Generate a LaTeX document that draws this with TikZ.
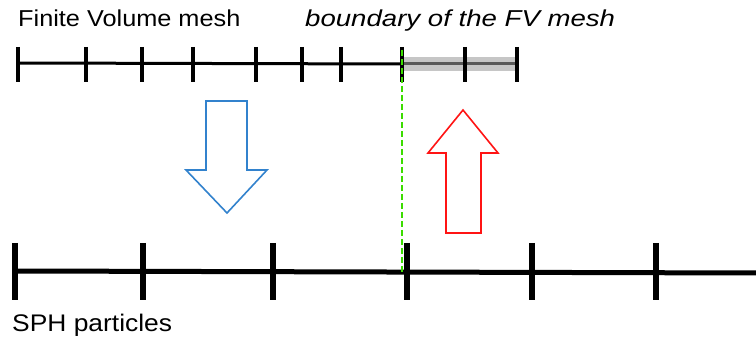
\documentclass[tikz,border=0pt]{standalone}
\usepackage{fontspec}
\setmainfont{Liberation Sans}
\newfontfamily\lab[FakeStretch=1.1]{Liberation Sans}
\newfontfamily\labit[FakeStretch=1.2]{Liberation Sans Italic}
\definecolor{arrblue}{RGB}{50,130,205}
\definecolor{arrred}{RGB}{255,20,20}
\definecolor{dashgreen}{RGB}{60,220,0}
\begin{document}
\begin{tikzpicture}[x=1pt,y=-1pt,
  lbl/.style={inner sep=0pt, anchor=base west, font=\lab\fontsize{23}{26}\selectfont},
  fvline/.style={line width=3pt, black},
  fvtick/.style={line width=3.4pt, black},
  sphline/.style={line width=5pt, black},
  sphtick/.style={line width=5.5pt, black},
  bigarrow/.style={line width=1.6pt, fill=white, line join=miter}]
\useasboundingbox (0,0) rectangle (756,344);
% labels
\node[lbl] (fvlabel) at (18,27) {Finite Volume mesh};
\node[lbl, font=\labit\fontsize{23}{26}\selectfont] (bdlabel) at (305,27) {boundary of the FV mesh};
\node[lbl, font=\lab\fontsize{24}{27}\selectfont] (sphlabel) at (12,332) {SPH particles};
% boundary band
\fill[gray!45] (402,57) rectangle (517,71);
\draw[line width=3pt, gray!70!black] (402,64) -- (517,64);
% FV mesh line
\coordinate (fvA) at (18,63);
\coordinate (fvB) at (402,64);
\draw[fvline] (fvA) -- (fvB);
\foreach \x in {18,86,142,193,256,302,341,402,465,517}
  \draw[fvtick] (\x,47) -- (\x,82);
% SPH line
\coordinate (spA) at (15,271);
\coordinate (spB) at (756,273);
\draw[sphline] (spA) -- (spB);
\foreach \x in {15,143,273,407,532,656}
  \draw[sphtick] (\x,243) -- (\x,300);
% green dashed interface
\coordinate (gTop) at (402,50);
\coordinate (gBot) at (402,272);
\draw[dashgreen, line width=2pt, dash pattern=on 6pt off 3pt] (gTop) -- (gBot);
% blue down arrow
\draw[bigarrow, draw=arrblue] (206,101) -- (247,101) -- (247,170) -- (267,170) -- (227,213) -- (186,170) -- (206,170) -- cycle;
% red up arrow
\draw[bigarrow, draw=arrred] (446,233) -- (481,233) -- (481,153) -- (498,153) -- (463,110) -- (428,153) -- (446,153) -- cycle;
\end{tikzpicture}
\end{document}
